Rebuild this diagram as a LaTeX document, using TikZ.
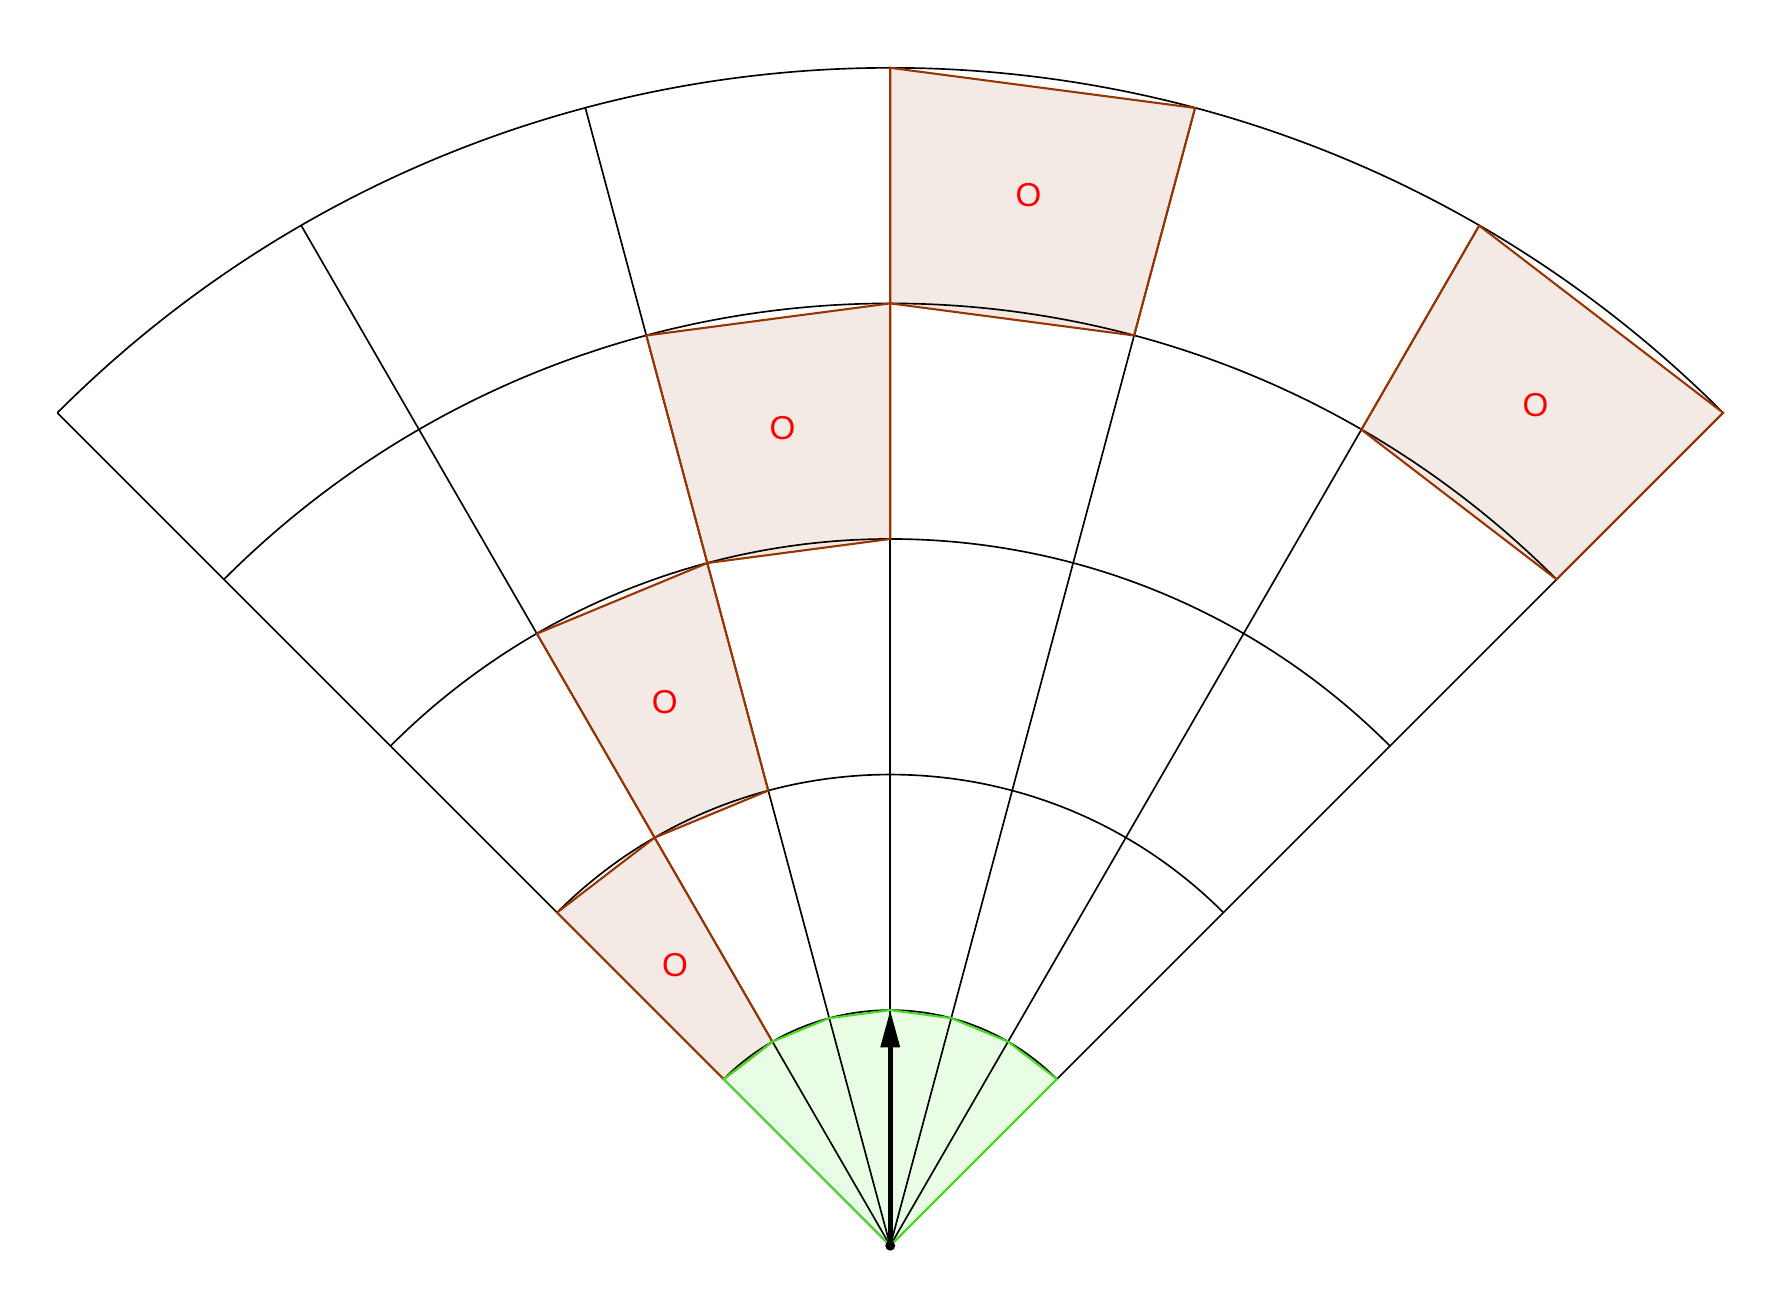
\documentclass[tikz,border=0pt]{standalone}
\usepackage{fontspec}
\setmainfont{Liberation Sans}
\usetikzlibrary{arrows.meta}
\definecolor{cellfill}{RGB}{244,234,229}
\definecolor{celledge}{RGB}{153,51,0}
\definecolor{beamfill}{RGB}{232,253,228}
\definecolor{beamedge}{RGB}{68,221,34}
\tikzset{
    celllabel/.style={text=red, font=\fontsize{8}{9.6}\selectfont, inner sep=0pt},
}
\newcommand{\drawarrow}{\draw[line width=1.1pt, -{Triangle[length=9pt, width=4.5pt]}]}

\begin{document}
\begin{tikzpicture}[scale=2]
    \useasboundingbox (-3.779, -0.2115) rectangle (3.760, 5.288);
    \coordinate (o) at (0, 0);

    % Fill beam and cells
    \fill[beamfill] (o) -- (45:1) -- (60:1) -- (75:1) -- (90:1) -- (105:1) -- (120:1) -- (135:1) -- cycle;
    \foreach \a/\b/\r in {120/135/1, 105/120/2, 90/105/3, 75/90/4, 45/60/4} {
        \fill[cellfill] (\a:\r) -- (\b:\r) -- (\b:\r+1) -- (\a:\r+1) -- cycle;
    }

    % Draw grid
    \foreach \r in {1,...,5} {
        \draw (45:\r) arc[start angle=45, end angle=135, radius=\r];
    }
    \foreach \a in {45,60,...,135} {
        \draw (o) -- (\a:5);
    }

    % Draw cell edges and labels
    \foreach \a/\b/\r in {120/135/1, 105/120/2, 90/105/3, 75/90/4, 45/60/4} {
        \draw[celledge, line width=0.5pt] (\a:\r) -- (\b:\r) -- (\b:\r+1) -- (\a:\r+1) -- cycle;
        \node[celllabel] (cell\a) at ({(\a+\b)/2}:{\r+0.5}) {O};
    }
    \draw[beamedge, line width=0.5pt] (o) -- (45:1) -- (60:1) -- (75:1) -- (90:1) -- (105:1) -- (120:1) -- (135:1) -- cycle;

    % Draw beam direction
    \coordinate (tip) at (90:1);
    \drawarrow (o) -- (tip);
    \fill (o) circle (0.6pt);
\end{tikzpicture}
\end{document}
